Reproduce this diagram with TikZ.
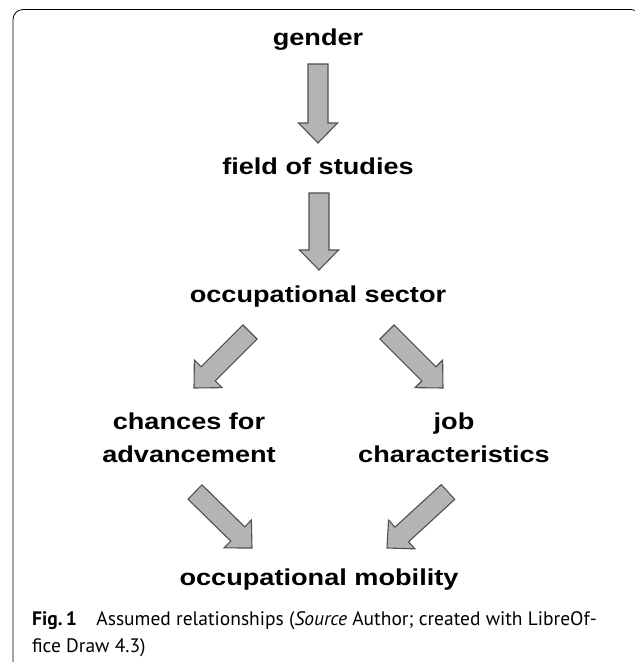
\documentclass[tikz,border=0pt]{standalone}
\usepackage{fontspec}
\usetikzlibrary{calc}
\newfontfamily\diagfont{Liberation Sans}[FakeStretch=1.18]
\newfontfamily\capfont{PT Sans}
\definecolor{arrowfill}{RGB}{180,180,180}
\definecolor{arrowline}{RGB}{80,80,80}
\tikzset{
  factor/.style={inner sep=0pt, anchor=base, align=center, font=\diagfont\bfseries\fontsize{23}{33}\selectfont},
  bigarrow/.style={draw=arrowline, fill=arrowfill, line width=1.1pt},
  captext/.style={inner sep=0pt, anchor=base west, font=\capfont\fontsize{19.5}{26}\selectfont}
}
% block arrow from tail to tip
\def\blockarrow(#1)(#2){\coordinate (h) at ($(#2)!20pt!(#1)$);
  \draw[bigarrow] ($(#1)!10pt!90:(#2)$) -- ($(h)!10pt!90:(#2)$) -- ($(h)!19.5pt!90:(#2)$) -- (#2)
    -- ($(h)!19.5pt!-90:(#2)$) -- ($(h)!10pt!-90:(#2)$) -- ($(#1)!10pt!-90:(#2)$) -- cycle;}

\begin{document}
\begin{tikzpicture}[x=1pt, y=-1pt]
			%%%%% START %%%%%
			\useasboundingbox (0, 0) rectangle (635, 662);
			\clip (0, 0) rectangle (635, 662);
			
			\draw[rounded corners=10pt, line width=0.8pt] (13, 9.5) rectangle (641, 700);
			
			\node[factor] (gender) at (318, 45) {gender};
			\node[factor] (field) at (318, 174) {field of studies};
			\node[factor] (sector) at (318, 302) {occupational sector};
			\node[factor] (chances) at (189, 462) {chances for\\advancement};
			\node[factor] (job) at (454, 462) {job\\characteristics};
			\node[factor] (mobility) at (319, 585) {occupational mobility};
			
			\coordinate (a1) at (318, 64);   \coordinate (b1) at (318, 143);
			\coordinate (a2) at (319, 193);  \coordinate (b2) at (319, 270);
			\coordinate (a3) at (250, 332);  \coordinate (b3) at (194, 388);
			\coordinate (a4) at (387, 332);  \coordinate (b4) at (443, 388);
			\coordinate (a5) at (195, 492);  \coordinate (b5) at (252, 548);
			\coordinate (a6) at (448, 492);  \coordinate (b6) at (387, 548);
			
			\blockarrow(a1)(b1)
			\blockarrow(a2)(b2)
			\blockarrow(a3)(b3)
			\blockarrow(a4)(b4)
			\blockarrow(a5)(b5)
			\blockarrow(a6)(b6)
			
			\node[captext] (cap1) at (32, 625) {\textbf{Fig.\,1}\quad Assumed relationships (\textit{Source} Author; created with LibreOf-};
			\node[captext] (cap2) at (32, 652) {fice Draw 4.3)};
			%%%%% END %%%%%
\end{tikzpicture}
\end{document}
